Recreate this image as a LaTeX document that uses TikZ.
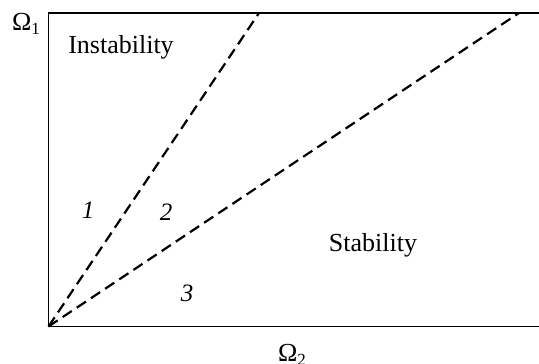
\documentclass[tikz,border=0pt]{standalone}
\usepackage{fontspec}
\setmainfont{Liberation Serif}
\newcommand{\omsub}[1]{Ω\raisebox{-0.35ex}{\fontsize{17}{17}\selectfont #1}}
\begin{document}
\begin{tikzpicture}[x=1pt,y=-1pt,
  frame/.style={line width=1.3pt},
  bound/.style={line width=2.2pt, dash pattern=on 11pt off 6pt},
  lbl/.style={font=\fontsize{26}{28}\selectfont, inner sep=0pt},
  num/.style={font=\fontsize{25}{27}\selectfont\itshape, inner sep=0pt}]
\useasboundingbox (0,0) rectangle (539,364);
\coordinate (O) at (48.5,326.5);
\coordinate (TL) at (48.5,13);
\coordinate (TR) at (539,13);
\coordinate (BR) at (539,326.5);
\coordinate (E1) at (259,13);
\coordinate (E2) at (519,13);
\draw[frame] (TR) -- (TL) -- (O) -- (BR);
\draw[bound] (O) -- (E1);
\draw[bound] (O) -- (E2);
\node[lbl] (inst) at (121,47) {Instability};
\node[lbl] (stab) at (373,245) {Stability};
\node[num] (n1) at (88,210) {1};
\node[num] (n2) at (166,212) {2};
\node[num] (n3) at (187,293) {3};
\node[lbl] (w1) at (26,24) {\omsub{1}};
\node[lbl] (w2) at (292,355) {\omsub{2}};
\end{tikzpicture}
\end{document}
